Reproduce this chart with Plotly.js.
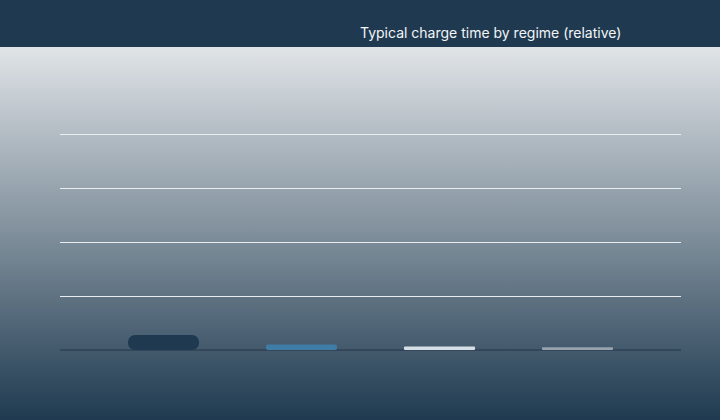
<!DOCTYPE html>
<html><head><meta charset="utf-8">
<script src="https://cdn.plot.ly/plotly-3.0.1.min.js"></script>
<style>
html,body{margin:0;padding:0;}
#chart{width:720px;height:420px;background:linear-gradient(to bottom,#1f3a50 0px,#1f3a50 47px,#e0e4e7 47px,#1f3a50 420px);}
</style></head><body><div id="chart"></div>
<script>
// Data (relative charge time, one gridline = 1 unit)
const regimes = ['Trickle', 'Standard', 'Fast', 'Ultra-fast'];
const chargeTime = [0.28, 0.10, 0.065, 0.052];
const barColors = ['#1f3a50', '#3f7da6', '#d6dee6', '#98a3ae'];
const titleText = 'Typical charge time by regime (relative)';

// Plot geometry (style)
const M = {l: 60, r: 39, t: 107, b: 70};
const yRange = [0, 4.5];
const pxPerUnit = (420 - M.t - M.b) / (yRange[1] - yRange[0]);

// Pill-shaped bars: an explicit base makes Plotly round both ends
const traces = regimes.map((cat, i) => ({
  type: 'bar', x: [cat], y: [chargeTime[i]], base: [0], width: 0.515,
  hoverinfo: 'skip',
  marker: {color: barColors[i], cornerradius: chargeTime[i] * pxPerUnit / 2, line: {width: 0}}
}));

const layout = {
  width: 720, height: 420,
  paper_bgcolor: 'rgba(0,0,0,0)', plot_bgcolor: 'rgba(0,0,0,0)',
  margin: M,
  title: {text: titleText, x: 0.5, xanchor: 'left', xref: 'container',
    y: 1 - 33 / 420, yref: 'container', yanchor: 'middle',
    font: {family: 'Inter, Liberation Sans, Arial, sans-serif', size: 14, color: '#f2f5f8'}},
  barmode: 'overlay', showlegend: false,
  xaxis: {type: 'category', categoryarray: regimes, categoryorder: 'array', range: [-0.75, 3.75],
    showticklabels: false, showgrid: false, zeroline: false, showline: false, ticks: ''},
  yaxis: {range: yRange, dtick: 1, tick0: 0, showticklabels: false, showgrid: true,
    gridcolor: '#e9edf1', gridwidth: 1, zeroline: true, zerolinecolor: '#34475a',
    zerolinewidth: 2, ticks: '', showline: false}
};
Plotly.newPlot('chart', traces, layout, {displayModeBar: false, staticPlot: true});
</script></body></html>
